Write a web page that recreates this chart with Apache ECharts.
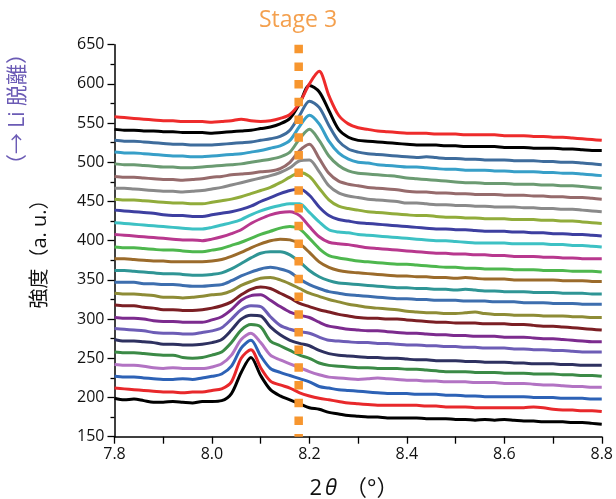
<!DOCTYPE html>
<html>
<head>
<meta charset="utf-8">
<script src="https://cdn.jsdelivr.net/npm/echarts@6/dist/echarts.min.js"></script>
<style>
  html, body { margin: 0; padding: 0; background: #fff; }
  #chart { width: 616px; height: 499px; }
</style>
</head>
<body>
<div id="chart"></div>
<script>
// 2θ sample positions shared by every scan
const twoTheta = [7.80, 7.82, 7.84, 7.86, 7.88, 7.90, 7.92, 7.94, 7.96, 7.98,
  8.00, 8.02, 8.04, 8.06, 8.08, 8.10, 8.12, 8.14, 8.16, 8.18,
  8.20, 8.22, 8.24, 8.26, 8.28, 8.30, 8.32, 8.34, 8.36, 8.38,
  8.40, 8.42, 8.44, 8.46, 8.48, 8.50, 8.52, 8.54, 8.56, 8.58,
  8.60, 8.62, 8.64, 8.66, 8.68, 8.70, 8.72, 8.74, 8.76, 8.78, 8.80];

// Stacked XRD scans, first scan at the bottom (intensity, offset included)
const scan01 = [199,197,198,196,194,194,195,194,193,195,195,196,205,232,251,228,210,202,197,192,187,185,181,179,177,176,175,175,174,174,174,174,173,173,173,172,172,171,172,171,172,171,170,170,169,169,169,168,168,167,166];
const scan02 = [212,211,210,209,208,207,207,206,207,207,209,211,220,250,261,238,221,216,212,206,202,199,197,195,193,192,191,190,190,190,190,190,189,189,188,188,188,187,187,187,187,187,187,188,187,185,184,184,183,183,182];
const scan03 = [227,226,226,225,224,223,223,224,223,225,227,230,240,263,273,253,237,232,228,224,220,214,212,210,209,208,207,206,205,205,205,204,204,204,203,203,202,202,201,201,201,201,201,200,200,200,199,199,199,198,198];
const scan04 = [242,241,241,240,238,237,238,237,237,237,239,243,254,274,282,270,254,248,243,238,233,229,226,225,224,223,224,225,224,223,222,222,221,221,220,220,220,219,219,219,218,218,218,217,216,216,215,214,214,213,213];
const scan05 = [258,257,257,256,255,254,254,251,250,251,254,258,270,286,293,290,272,266,260,254,250,244,241,240,239,238,238,237,237,237,236,236,235,234,233,233,233,232,232,232,231,231,231,230,230,230,229,229,228,228,227];
const scan06 = [274,272,272,271,270,268,268,267,267,268,270,274,286,300,305,304,290,280,273,269,266,260,256,254,253,252,251,251,250,250,249,248,248,247,247,247,246,246,245,245,245,244,244,243,243,243,242,242,241,241,241];
const scan07 = [288,287,286,285,283,282,282,281,281,283,285,289,300,312,317,316,303,292,287,284,282,277,273,272,271,270,270,269,269,268,267,267,266,266,265,265,264,264,263,263,263,262,262,261,261,260,260,259,258,258,258];
const scan08 = [302,301,301,300,298,297,297,296,296,296,299,303,312,324,330,331,324,316,309,305,302,296,291,289,287,286,285,285,284,283,282,282,281,280,280,279,279,278,278,278,277,277,277,276,275,275,274,273,272,271,271];
const scan09 = [318,317,317,315,314,312,312,311,311,312,314,317,322,331,338,341,339,333,327,320,316,312,309,306,304,302,301,301,300,300,299,298,297,296,296,295,295,295,294,294,294,293,293,292,291,291,290,289,288,287,286];
const scan10 = [333,332,332,331,330,328,328,327,328,329,331,332,336,343,348,352,353,350,345,339,333,329,325,322,319,317,315,314,313,312,310,309,308,308,307,307,308,309,307,306,306,305,305,305,304,304,304,303,303,302,302];
const scan11 = [347,347,347,345,345,344,344,343,342,342,343,344,349,355,360,364,366,364,360,351,344,339,335,333,331,330,329,328,327,326,326,325,325,324,324,324,323,323,323,322,322,322,321,321,321,320,320,320,319,319,319];
const scan12 = [362,362,361,360,359,358,358,357,356,356,357,359,364,371,378,384,386,386,382,373,362,354,349,346,345,344,343,342,341,340,340,339,339,338,338,337,338,337,336,336,335,335,335,334,334,334,333,333,333,332,332];
const scan13 = [377,377,376,375,374,374,373,373,373,373,374,376,380,385,391,396,400,402,401,396,385,373,366,362,360,359,358,357,356,355,355,354,354,353,353,352,353,352,351,351,351,350,350,350,350,350,349,349,349,348,348];
const scan14 = [392,391,391,390,389,388,388,387,386,386,388,390,394,398,403,408,412,416,418,415,403,390,381,378,376,374,373,372,371,370,370,369,368,367,366,366,365,365,364,364,364,363,363,363,362,362,362,361,361,361,360];
const scan15 = [408,407,406,405,404,403,402,401,401,400,402,405,409,414,422,428,433,436,437,432,418,405,398,396,395,393,391,390,389,388,387,386,385,384,384,383,383,382,382,381,381,380,380,380,379,379,378,378,377,377,377];
const scan16 = [423,422,421,420,419,418,417,416,415,415,417,420,423,427,433,438,442,445,447,447,436,424,414,411,410,408,407,406,405,404,403,402,401,400,400,399,398,397,397,397,397,396,396,396,396,395,395,394,394,393,392];
const scan17 = [439,438,437,436,435,433,432,432,431,431,433,435,437,440,444,450,455,460,464,466,458,443,432,427,425,423,422,421,420,419,418,417,416,415,415,414,414,413,412,412,412,411,411,410,410,409,409,408,408,407,406];
const scan18 = [453,452,452,451,450,449,448,448,447,447,449,451,453,456,460,464,468,474,481,487,482,467,452,444,441,439,437,436,435,434,433,432,432,431,430,430,429,429,428,428,428,427,427,427,426,426,425,425,424,423,422];
const scan19 = [467,467,466,465,464,463,463,462,463,464,466,468,471,474,477,480,483,487,493,502,503,488,470,461,457,455,453,452,451,450,448,448,447,446,446,445,445,444,444,443,443,443,442,442,441,441,440,440,439,438,437];
const scan20 = [482,481,481,480,479,478,478,477,478,479,481,482,484,485,486,488,489,492,500,515,523,505,486,476,472,470,468,467,466,465,463,462,462,461,461,460,460,459,459,459,458,458,458,457,457,456,456,455,455,454,453];
const scan21 = [498,497,497,496,495,494,494,493,493,494,495,496,497,498,500,502,504,507,513,530,542,528,508,496,489,486,485,484,483,482,480,479,478,477,476,475,474,474,473,473,473,472,472,472,471,471,470,470,469,468,467];
const scan22 = [513,512,512,511,510,509,508,508,507,507,508,509,510,511,513,515,518,521,528,546,560,549,527,512,504,500,499,497,496,495,494,494,493,492,491,491,490,490,490,489,489,488,488,488,487,487,486,486,485,484,483];
const scan23 = [528,527,527,526,525,524,523,523,522,522,522,523,524,525,526,528,530,533,541,560,578,570,547,527,517,513,511,510,509,508,507,506,507,506,505,505,504,504,503,503,503,502,502,502,501,501,500,500,499,498,497];
const scan24 = [542,541,541,540,540,539,539,538,538,538,537,538,539,540,541,543,545,549,556,575,598,590,566,542,532,528,527,526,525,524,523,522,522,522,521,521,520,520,520,520,519,519,519,518,518,518,517,517,516,515,515];
const scan25 = [558,557,556,555,554,553,553,552,552,552,551,552,553,555,553,552,553,556,561,576,600,616,585,560,549,544,542,540,539,538,537,537,537,536,536,536,535,535,535,535,534,534,534,533,533,532,532,531,530,529,528];

const scans = [scan01, scan02, scan03, scan04, scan05, scan06, scan07, scan08, scan09, scan10,
  scan11, scan12, scan13, scan14, scan15, scan16, scan17, scan18, scan19, scan20,
  scan21, scan22, scan23, scan24, scan25];

// Position of the stage-3 reflection
const stage3Angle = 8.178;

// Axis ranges and tick steps
const xRange = [7.8, 8.8];
const xStep = 0.2;
const yRange = [150, 650];
const yStep = 50;

// Line colours, bottom scan first
const scanColors = ['#000000', '#E8282B', '#2D62B6', '#B273C3', '#3B8A46', '#2E3160', '#6D5DB6', '#7C2B8E',
  '#7B1F24', '#8E8C36', '#3D6EAE', '#2F9595', '#9B6B2B', '#4EB74E', '#B8388E', '#3DC1C4',
  '#3D3FA0', '#91AC3B', '#8A8A8A', '#966B6C', '#6B9B72', '#379FC8', '#3E6C9C', '#000000', '#EE2B2B'];

const FONT = '"Open Sans", "Noto Sans", "Noto Sans CJK JP", sans-serif';

const chart = echarts.init(document.getElementById('chart'), null, { renderer: 'canvas' });

const series = scans.map((scan, i) => ({
  type: 'line',
  data: scan.map((v, k) => [twoTheta[k], v]),
  showSymbol: false,
  smooth: 0.3,
  lineStyle: { color: scanColors[i], width: 3 },
  itemStyle: { color: scanColors[i] },
  z: 2,
  silent: true
}));

// Dotted marker of the stage-3 peak position, drawn from the top down
series.push({
  type: 'line',
  data: [[stage3Angle, yRange[1]], [stage3Angle, yRange[0]]],
  showSymbol: false,
  lineStyle: { color: '#F7962F', width: 8.5, type: [8.5, 9.2], cap: 'butt' },
  z: 5,
  silent: true
});

chart.setOption({
  animation: false,
  backgroundColor: '#ffffff',
  grid: { left: 114.5, right: 13.5, top: 44.7, bottom: 62.3 },
  xAxis: {
    type: 'value',
    min: xRange[0], max: xRange[1], interval: xStep,
    axisLine: { show: true, onZero: false, lineStyle: { color: '#000', width: 1.5 } },
    axisTick: { show: true, inside: false, length: 7, lineStyle: { color: '#000', width: 1.3 } },
    minorTick: { show: true, splitNumber: 2, length: 7, lineStyle: { color: '#000', width: 1.3 } },
    splitLine: { show: false },
    axisLabel: { color: '#111', fontSize: 16, fontFamily: FONT, margin: 10,
      formatter: v => v.toFixed(1) }
  },
  yAxis: {
    type: 'value',
    min: yRange[0], max: yRange[1], interval: yStep,
    axisLine: { show: true, onZero: false, lineStyle: { color: '#000', width: 1.5 } },
    axisTick: { show: true, inside: false, length: 7, lineStyle: { color: '#000', width: 1.3 } },
    minorTick: { show: true, splitNumber: 2, length: 4, lineStyle: { color: '#000', width: 1.3 } },
    splitLine: { show: false },
    axisLabel: { color: '#111', fontSize: 16, fontFamily: FONT, margin: 10 }
  },
  graphic: [
    {
      type: 'text', x: 298, y: 20,
      style: { text: 'Stage 3', fill: '#F4A04E', font: '23px ' + FONT,
        textAlign: 'center', textVerticalAlign: 'middle' }
    },
    {
      type: 'text', x: 40, y: 249, rotation: Math.PI / 2,
      style: { text: '強度（a. u.）', fill: '#111', font: '20px ' + FONT,
        textAlign: 'center', textVerticalAlign: 'middle' }
    },
    {
      type: 'text', x: 18, y: 109, rotation: Math.PI / 2,
      style: { text: '（→ Li 脱離）', fill: '#6B5BB5', font: '21px ' + FONT,
        textAlign: 'center', textVerticalAlign: 'middle' }
    },
    {
      type: 'text', x: 354, y: 489,
      style: {
        text: '{n|2}{i|θ}{n|（°）}',
        textAlign: 'center', textVerticalAlign: 'middle',
        rich: {
          n: { fontSize: 22, fontFamily: FONT, fill: '#111', color: '#111' },
          i: { fontSize: 22, fontFamily: FONT, fontStyle: 'italic', fill: '#111', color: '#111', padding: [0, 8, 0, 3] }
        }
      }
    }
  ],
  series: series
});
</script>
</body>
</html>
